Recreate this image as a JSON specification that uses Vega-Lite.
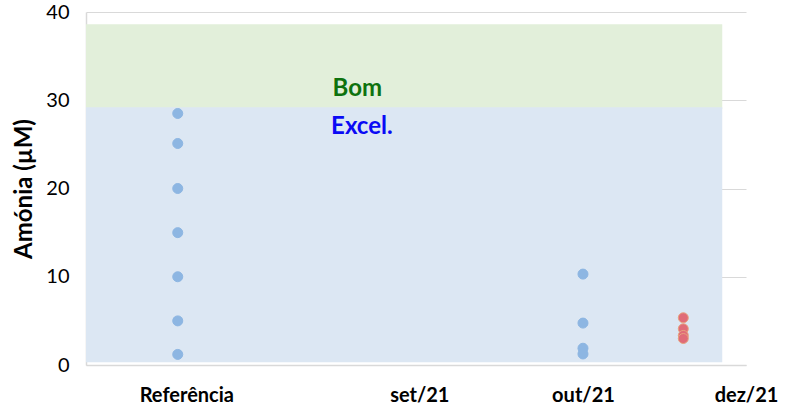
{
  "$schema": "https://vega.github.io/schema/vega-lite/v6.json",
  "width": 660,
  "height": 353,
  "autosize": {"type": "none"},
  "padding": {"left": 86, "top": 12, "right": 43, "bottom": 46},
  "background": "white",
  "config": {
    "view": {"stroke": null},
    "font": "Lato"
  },
  "datasets": {
    "bands": [
      {"faixa": "Bom", "x0": 0, "x1": 96.4, "y0": 29.0, "y1": 38.6},
      {"faixa": "Excel.", "x0": 0, "x1": 96.4, "y0": 0.3, "y1": 29.2}
    ],
    "pts": [
      {"x": 13.9, "y": 28.5, "serie": "A"},
      {"x": 13.9, "y": 25.1, "serie": "A"},
      {"x": 13.9, "y": 20.0, "serie": "A"},
      {"x": 13.9, "y": 15.0, "serie": "A"},
      {"x": 13.9, "y": 10.0, "serie": "A"},
      {"x": 13.9, "y": 5.0, "serie": "A"},
      {"x": 13.9, "y": 1.2, "serie": "A"},
      {"x": 75.3, "y": 10.3, "serie": "A"},
      {"x": 75.3, "y": 4.75, "serie": "A"},
      {"x": 75.3, "y": 1.9, "serie": "A"},
      {"x": 75.3, "y": 1.25, "serie": "A"},
      {"x": 90.5, "y": 5.35, "serie": "B"},
      {"x": 90.5, "y": 4.1, "serie": "B"},
      {"x": 90.5, "y": 3.35, "serie": "B"},
      {"x": 90.5, "y": 3.0, "serie": "B"}
    ],
    "labels": [
      {"x": 41.1, "y": 31.3, "txt": "Bom", "faixa": "Bom"},
      {"x": 41.8, "y": 27.0, "txt": "Excel.", "faixa": "Excel."}
    ]
  },
  "layer": [
    {
      "data": {"name": "bands"},
      "mark": {"type": "rect"},
      "encoding": {
        "x": {"field": "x0", "type": "quantitative", "scale": {"domain": [0, 100], "nice": false, "zero": false},
          "axis": {"values": [15.2, 50.5, 75.3, 100], "labelExpr": "datum.value < 20 ? 'Referência' : datum.value < 60 ? 'set/21' : datum.value < 80 ? 'out/21' : 'dez/21'",
            "grid": false, "ticks": false, "domainColor": "#D9D9D9", "domainWidth": 1.5, "labelFont": "Lato", "labelFontWeight": "bold", "labelFontSize": 20, "labelColor": "#000000", "labelPadding": 20, "title": null, "labelFlush": false}},
        "x2": {"field": "x1"},
        "y": {"field": "y0", "type": "quantitative", "scale": {"domain": [0, 40], "nice": false},
          "axis": {"values": [0, 10, 20, 30, 40], "grid": true, "gridColor": "#D9D9D9", "gridWidth": 1.2, "ticks": false, "domainColor": "#D9D9D9", "domainWidth": 1.5,
            "labelFont": "Lato", "labelFontSize": 20, "labelColor": "#000000", "labelPadding": 17,
            "title": "Amónia (µM)", "titleFont": "Lato", "titleFontSize": 24, "titleFontWeight": "bold", "titleColor": "#000000", "titlePadding": 9}},
        "y2": {"field": "y1"},
        "color": {"field": "faixa", "type": "nominal", "scale": {"domain": ["Bom", "Excel."], "range": ["#E2EFDA", "#DCE7F3"]}, "legend": null},
        "order": {"field": "y0", "sort": "descending"}
      }
    },
    {
      "data": {"name": "labels"},
      "mark": {"type": "text", "font": "Lato", "fontWeight": "bold", "fontSize": 24},
      "encoding": {
        "x": {"field": "x", "type": "quantitative"},
        "y": {"field": "y", "type": "quantitative"},
        "text": {"field": "txt"},
        "color": {"field": "faixa", "type": "nominal", "scale": {"domain": ["Bom", "Excel."], "range": ["#0E720E", "#0A0AF5"]}, "legend": null}
      }
    },
    {
      "data": {"name": "pts"},
      "mark": {"type": "point", "filled": true, "size": 100, "opacity": 1, "strokeWidth": 1},
      "encoding": {
        "x": {"field": "x", "type": "quantitative"},
        "y": {"field": "y", "type": "quantitative"},
        "fill": {"field": "serie", "type": "nominal", "scale": {"domain": ["A", "B"], "range": ["#8DB6E2", "#E06C78"]}, "legend": null},
        "stroke": {"field": "serie", "type": "nominal", "scale": {"domain": ["A", "B"], "range": ["#8DB6E2", "#E8A27E"]}, "legend": null}
      }
    }
  ],
  "resolve": {"scale": {"color": "independent"}}
}
